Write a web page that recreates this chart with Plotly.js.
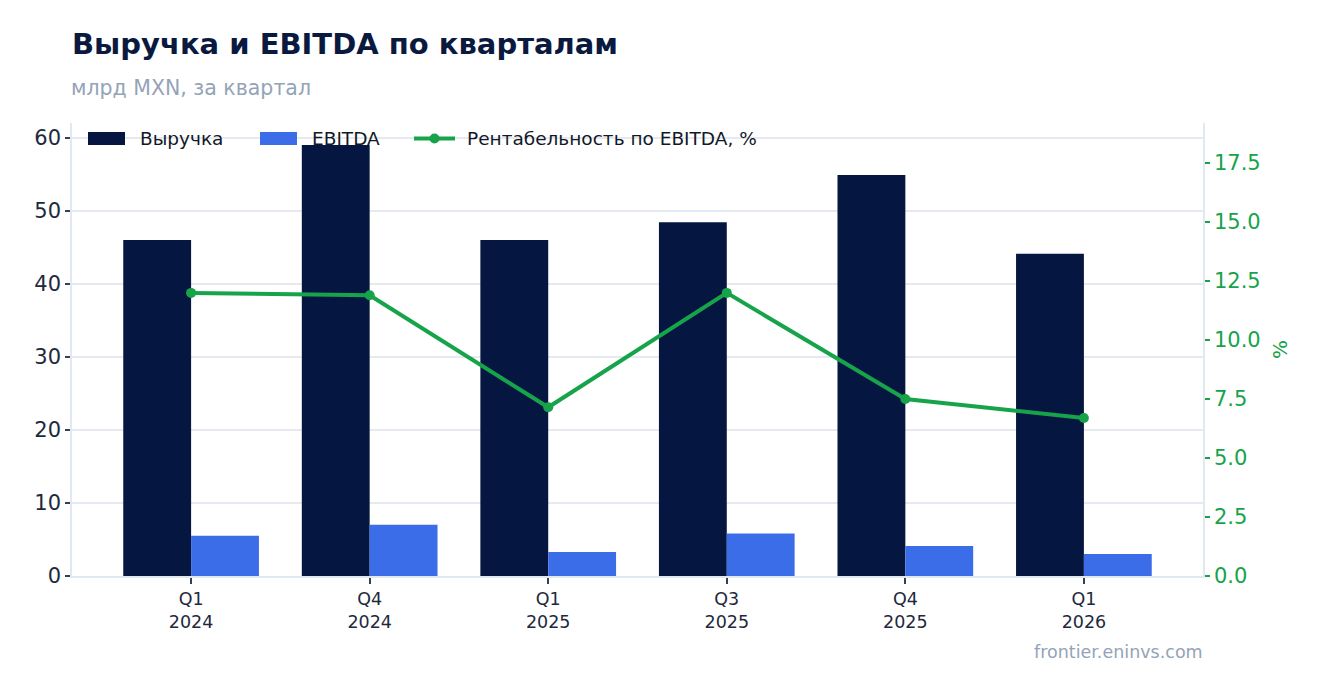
<!DOCTYPE html>
<html>
<head>
<meta charset="utf-8">
<script src="https://cdn.plot.ly/plotly-3.0.1.min.js"></script>
<style>html,body{margin:0;padding:0;background:#fff;}#chart{width:1323px;height:693px;}</style>
</head>
<body>
<div id="chart"></div>
<script>
const categories = ["Q1<br>2024", "Q4<br>2024", "Q1<br>2025", "Q3<br>2025", "Q4<br>2025", "Q1<br>2026"];
const revenue = [46.0, 59.0, 46.0, 48.4, 54.9, 44.1];
const ebitda = [5.5, 7.0, 3.3, 5.8, 4.1, 3.0];
const margin = [12.0, 11.9, 7.15, 12.0, 7.5, 6.7];
const seriesNames = ["Выручка", "EBITDA", "Рентабельность по EBITDA, %"];

const NAVY = "#051640", BLUE = "#3b6de8", GREEN = "#16a34a";

const traces = [
  {type: "bar", name: seriesNames[0], x: categories, y: revenue, marker: {color: NAVY}, yaxis: "y"},
  {type: "bar", name: seriesNames[1], x: categories, y: ebitda, marker: {color: BLUE}, yaxis: "y"},
  {type: "scatter", mode: "lines+markers", name: seriesNames[2], x: categories, y: margin,
   yaxis: "y2", line: {color: GREEN, width: 4}, marker: {color: GREEN, size: 10}}
];

// plot area in pixels (for custom legend placement)
const PL = 72, PR = 1203, PT = 123, PB = 576;
const px = v => (v - PL) / (PR - PL);
const py = v => (PB - v) / (PB - PT);

const legendShapes = [
  {type: "rect", xref: "paper", yref: "paper", x0: px(88), x1: px(125), y0: py(145), y1: py(132),
   fillcolor: NAVY, line: {width: 0}, layer: "above"},
  {type: "rect", xref: "paper", yref: "paper", x0: px(260), x1: px(297), y0: py(145), y1: py(132),
   fillcolor: BLUE, line: {width: 0}, layer: "above"},
  {type: "line", xref: "paper", yref: "paper", x0: px(414), x1: px(455), y0: py(138.5), y1: py(138.5),
   line: {color: GREEN, width: 4}, layer: "above"},
  {type: "circle", xref: "paper", yref: "paper", x0: px(429.5), x1: px(439.5), y0: py(143.5), y1: py(133.5),
   fillcolor: GREEN, line: {width: 0}, layer: "above"}
];

const legendText = (t, x) => ({text: t, xref: "paper", yref: "paper", x: px(x), y: py(139), xanchor: "left", yanchor: "middle",
  showarrow: false, font: {family: "DejaVu Sans", size: 18.5, color: "#111827"}});

const layout = {
  width: 1323, height: 693,
  margin: {l: PL, r: 1323 - PR, t: PT, b: 693 - PB},
  paper_bgcolor: "#fff", plot_bgcolor: "#fff",
  font: {family: "DejaVu Sans", color: "#1e293b"},
  barmode: "group", bargap: 0.24, bargroupgap: 0,
  showlegend: false,
  title: {text: "<b>Выручка и EBITDA по кварталам</b>", x: 72/1323, xanchor: "left", xref: "container",
          y: 1 - 44/693, yanchor: "middle", yref: "container",
          font: {family: "DejaVu Sans", size: 29, color: "#0a1a3f"}},
  xaxis: {type: "category", range: [-0.667, 5.667], showgrid: false, showline: true, linecolor: "#e2e8f0", linewidth: 2,
          ticks: "outside", ticklen: 6, tickcolor: "#334155", tickwidth: 2,
          tickfont: {size: 17.5, color: "#1e293b"}},
  yaxis: {range: [0, 62], dtick: 10, gridcolor: "#e5e9f0", gridwidth: 1.5, zeroline: false,
          showline: true, linecolor: "#e2e8f0", linewidth: 1.5,
          ticks: "outside", ticklen: 5, tickcolor: "#334155", tickwidth: 2,
          tickfont: {size: 21, color: "#1e293b"}},
  yaxis2: {overlaying: "y", side: "right", range: [0, 19.2], dtick: 2.5, tickformat: ".1f",
           showgrid: false, zeroline: false, showline: true, linecolor: "#e2e8f0", linewidth: 1.5,
           ticks: "outside", ticklen: 5, tickcolor: GREEN, tickwidth: 2,
           tickfont: {size: 21, color: GREEN},
           title: {text: "%", font: {size: 20, color: GREEN}, standoff: 13}},
  shapes: legendShapes,
  annotations: [
    legendText(seriesNames[0], 138),
    legendText(seriesNames[1], 310),
    legendText(seriesNames[2], 465),
    {text: "млрд MXN, за квартал", xref: "paper", yref: "paper", x: px(69), y: py(88), xanchor: "left", yanchor: "middle",
     showarrow: false, font: {family: "DejaVu Sans", size: 20.5, color: "#94a3b8"}},
    {text: "frontier.eninvs.com", xref: "paper", yref: "paper", x: px(1205), y: py(652), xanchor: "right", yanchor: "middle",
     showarrow: false, font: {family: "DejaVu Sans", size: 17.5, color: "#94a3b8"}}
  ]
};

Plotly.newPlot("chart", traces, layout, {displayModeBar: false, responsive: false});
</script>
</body>
</html>
